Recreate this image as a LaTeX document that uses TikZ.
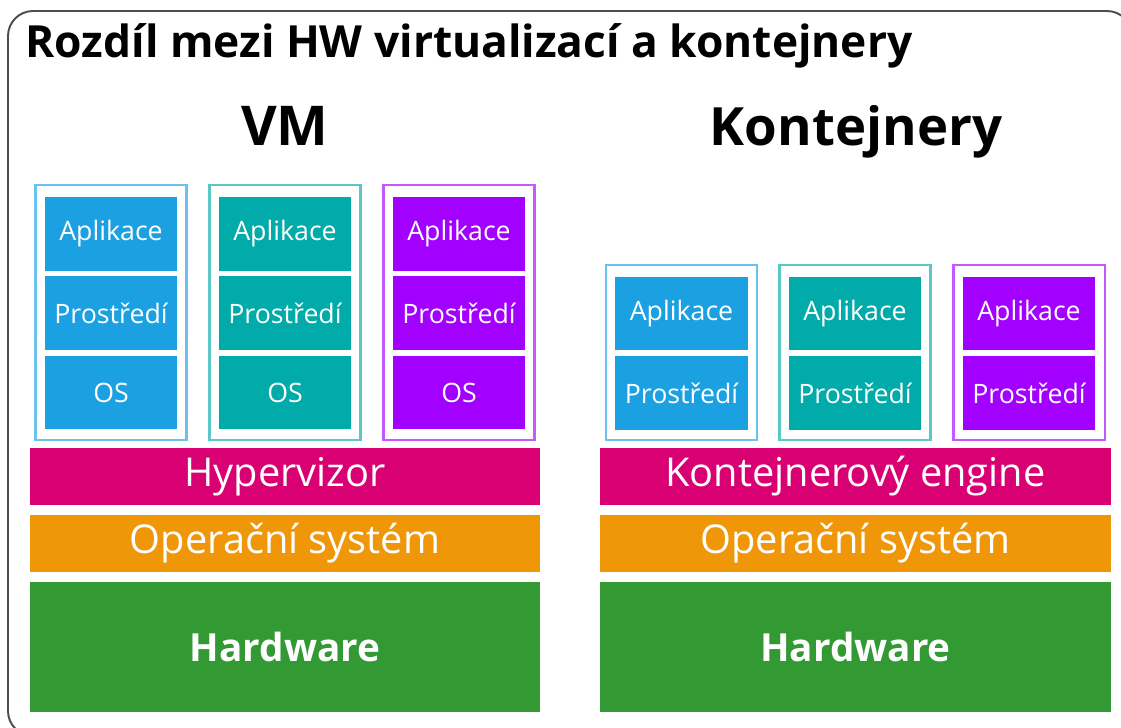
\documentclass[tikz,border=0pt]{standalone}
\usepackage{fontspec}
\setmainfont{Open Sans}
\usepackage{tikz}
\usepackage{xcolor}
\definecolor{mblue}{HTML}{1BA1E2}
\definecolor{mteal}{HTML}{00ABA9}
\definecolor{mpurple}{HTML}{A200FF}
\definecolor{mmagenta}{HTML}{D80073}
\definecolor{morange}{HTML}{F09609}
\definecolor{mgreen}{HTML}{339933}

\begin{document}
\begin{tikzpicture}[x=0.01cm, y=-0.01cm,
    frame/.style={draw, line width=0.6pt, fill=white, minimum width=1.51cm, inner sep=0cm},
    part/.style={draw=none, text=white, minimum width=1.32cm, minimum height=0.735cm, inner sep=0cm, font=\fontsize{7.6}{9}\selectfont},
    layer/.style={draw=none, text=white, minimum width=5.1cm, inner sep=0cm, font=\fontsize{11.3}{13}\selectfont}]
                \useasboundingbox (0,0) rectangle (1121,727);
                \draw[rounded corners=0.25cm, line width=0.55pt, draw=black!70] (8,11) rectangle (1132,736);

                \node[anchor=base west, inner sep=0cm, font=\bfseries\fontsize{12.6}{15}\selectfont] (title) at (25,57) {Rozdíl mezi HW virtualizací a kontejnery};
                \node[anchor=base, inner sep=0cm, font=\bfseries\fontsize{15.6}{18}\selectfont] (vm title) at (285,145) {VM};
                \node[anchor=base, inner sep=0cm, font=\bfseries\fontsize{15}{18}\selectfont] (ct title) at (856,145) {Kontejnery};

                % virtualni stroje
                \node[frame, draw=mblue!65, minimum height=2.55cm] (vm1) at (111,312.5) {};
                \node[frame, draw=mteal!65, minimum height=2.55cm] (vm2) at (285,312.5) {};
                \node[frame, draw=mpurple!65, minimum height=2.55cm] (vm3) at (459,312.5) {};

                \node[part, fill=mblue] (vm1 app) at (111,234) {Aplikace};
                \node[part, fill=mblue] (vm1 env) at (111,313) {Prostředí};
                \node[part, fill=mblue] (vm1 os) at (111,392.5) {OS};
                \node[part, fill=mteal] (vm2 app) at (285,234) {Aplikace};
                \node[part, fill=mteal] (vm2 env) at (285,313) {Prostředí};
                \node[part, fill=mteal] (vm2 os) at (285,392.5) {OS};
                \node[part, fill=mpurple] (vm3 app) at (459,234) {Aplikace};
                \node[part, fill=mpurple] (vm3 env) at (459,313) {Prostředí};
                \node[part, fill=mpurple] (vm3 os) at (459,392.5) {OS};

                \node[layer, fill=mmagenta, minimum height=0.57cm] (hypervisor) at (285,476.5) {Hypervizor};
                \node[layer, fill=morange, minimum height=0.57cm] (vm hostos) at (285,543.5) {Operační systém};
                \node[layer, fill=mgreen, minimum height=1.30cm, font=\bfseries\fontsize{11}{13}\selectfont] (vm hw) at (285,647) {Hardware};

                % kontejnery
                \node[frame, draw=mblue!65, minimum height=1.75cm] (ct1) at (681.5,352.5) {};
                \node[frame, draw=mteal!65, minimum height=1.75cm] (ct2) at (855,352.5) {};
                \node[frame, draw=mpurple!65, minimum height=1.75cm] (ct3) at (1029,352.5) {};

                \node[part, fill=mblue] (ct1 app) at (681.5,313.5) {Aplikace};
                \node[part, fill=mblue] (ct1 env) at (681.5,393) {Prostředí};
                \node[part, fill=mteal] (ct2 app) at (855,313.5) {Aplikace};
                \node[part, fill=mteal] (ct2 env) at (855,393) {Prostředí};
                \node[part, fill=mpurple] (ct3 app) at (1029,313.5) {Aplikace};
                \node[part, fill=mpurple] (ct3 env) at (1029,393) {Prostředí};

                \node[layer, fill=mmagenta, minimum height=0.57cm] (engine) at (855.5,476.5) {Kontejnerový engine};
                \node[layer, fill=morange, minimum height=0.57cm] (ct hostos) at (855.5,543.5) {Operační systém};
                \node[layer, fill=mgreen, minimum height=1.30cm, font=\bfseries\fontsize{11}{13}\selectfont] (ct hw) at (855.5,647) {Hardware};
            \end{tikzpicture}
\end{document}
